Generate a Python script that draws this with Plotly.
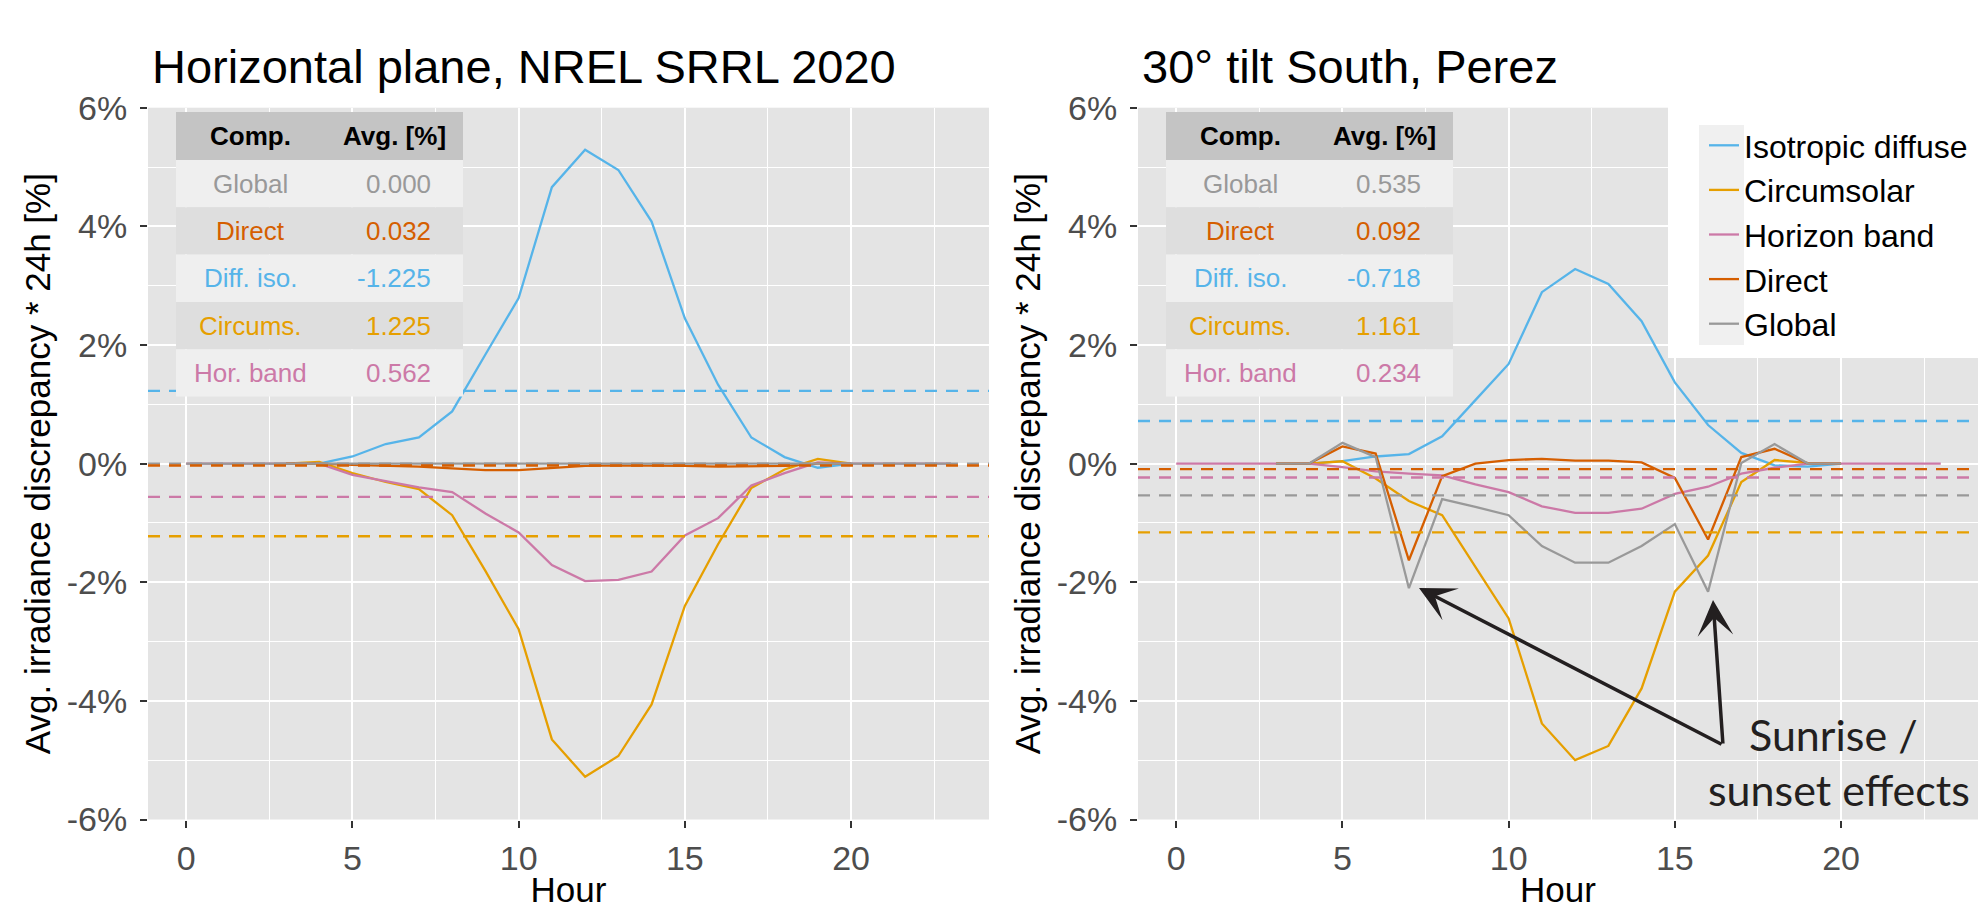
import plotly.graph_objects as go

W, H = 1978, 909

# ---------------- data ----------------
HOURS = list(range(24))
SERIES = ["Isotropic diffuse", "Circumsolar", "Horizon band", "Direct", "Global"]
COLORS = ["#56B4E9", "#E69F00", "#CC79A7", "#D55E00", "#999999"]

N = None
# Horizontal plane (left)
H_ISO = [N, N, N, 0, 0, 0.12, 0.33, 0.44, 0.88, 1.84, 2.79, 4.66, 5.29, 4.95, 4.08, 2.45, 1.33, 0.44, 0.11, -0.07, 0, N, N, N]
H_CIRC = [N, N, N, 0, 0.03, -0.16, -0.31, -0.43, -0.87, -1.81, -2.79, -4.65, -5.28, -4.93, -4.06, -2.40, -1.36, -0.41, -0.10, 0.08, 0, N, N, N]
H_HOR = [0, 0, 0, 0, 0, -0.19, -0.30, -0.40, -0.48, -0.84, -1.16, -1.71, -1.98, -1.96, -1.82, -1.21, -0.92, -0.37, -0.16, 0.02, 0, 0, 0, 0]
H_DIR = [N, N, N, 0, 0, -0.02, -0.03, -0.05, -0.08, -0.11, -0.11, -0.07, -0.04, -0.03, -0.03, -0.04, -0.05, -0.05, -0.04, 0, 0, N, N, N]
H_GLOB = [0] * 24

# 30 deg tilt South, Perez (right)
T_ISO = [N, N, N, 0, 0, 0.04, 0.12, 0.16, 0.46, 1.07, 1.68, 2.89, 3.28, 3.03, 2.40, 1.37, 0.65, 0.18, -0.03, -0.05, 0, N, N, N]
T_CIRC = [N, N, N, 0, 0, 0.04, -0.25, -0.63, -0.87, -1.74, -2.61, -4.38, -5.00, -4.76, -3.79, -2.16, -1.55, -0.31, 0.06, 0.01, 0, N, N, N]
T_HOR = [0, 0, 0, 0, 0, -0.06, -0.13, -0.17, -0.20, -0.35, -0.48, -0.72, -0.83, -0.83, -0.76, -0.51, -0.39, -0.17, -0.07, 0, 0, 0, 0, 0]
T_DIR = [N, N, N, 0, 0, 0.29, 0.17, -1.63, -0.21, 0.0, 0.06, 0.08, 0.05, 0.05, 0.02, -0.24, -1.28, 0.11, 0.25, 0, 0, N, N, N]
T_GLOB = [N, N, N, 0, 0, 0.35, 0.11, -2.10, -0.60, -0.73, -0.87, -1.39, -1.67, -1.67, -1.39, -1.02, -2.16, 0.01, 0.33, 0, 0, N, N, N]

# Tables (Comp. / Avg. [%])
TABLE_HEADER = ["Comp.", "Avg. [%]"]
COMP_LABELS = ["Global", "Direct", "Diff. iso.", "Circums.", "Hor. band"]
COMP_COLORS = ["#999999", "#D55E00", "#56B4E9", "#E69F00", "#CC79A7"]
LEFT_AVG = ["0.000", "0.032", "-1.225", "1.225", "0.562"]
RIGHT_AVG = ["0.535", "0.092", "-0.718", "1.161", "0.234"]

TITLES = ["Horizontal plane, NREL SRRL 2020", "30° tilt South, Perez"]
X_TICKS = [0, 5, 10, 15, 20]
Y_TICKS = [-6, -4, -2, 0, 2, 4, 6]
Y_TICKTEXT = ["-6%", "-4%", "-2%", "0%", "2%", "4%", "6%"]
X_TITLE = "Hour"
Y_TITLE = "Avg. irradiance discrepancy * 24h [%]"
NOTE_LINES = ["Sunrise /", "sunset effects"]

# ---------------- layout helpers ----------------
def px(x):
    return x / W

def py(y):
    return 1 - y / H

FONT = "Liberation Sans"
PANEL_TOP, PANEL_BOT = 107.7, 819.5
LEFT_PANEL = (148, 989)
RIGHT_PANEL = (1138, 1978)
PX_PER_PCT = (PANEL_BOT - PANEL_TOP) / 12.0
Y0_PX = (PANEL_BOT + PANEL_TOP) / 2.0

def ypct(y_px):
    return (Y0_PX - y_px) / PX_PER_PCT

fig = go.Figure()

left_sets = [H_ISO, H_CIRC, H_HOR, H_DIR, H_GLOB]
right_sets = [T_ISO, T_CIRC, T_HOR, T_DIR, T_GLOB]
for name, col, ys in zip(SERIES, COLORS, left_sets):
    fig.add_trace(go.Scatter(x=HOURS, y=ys, mode="lines", name=name,
                             line=dict(color=col, width=2.3),
                             xaxis="x", yaxis="y", showlegend=False,
                             hoverinfo="skip"))
for name, col, ys in zip(SERIES, COLORS, right_sets):
    fig.add_trace(go.Scatter(x=HOURS, y=ys, mode="lines", name=name,
                             line=dict(color=col, width=2.3),
                             xaxis="x2", yaxis="y2", showlegend=True,
                             hoverinfo="skip"))

shapes = []
# dashed mean lines (negated averages)
for avgs, xr, yr in [(LEFT_AVG, "x domain", "y"), (RIGHT_AVG, "x2 domain", "y2")]:
    for a, col in zip(avgs, COMP_COLORS):
        v = -float(a)
        shapes.append(dict(type="line", xref=xr, yref=yr, x0=0, x1=1, y0=v, y1=v,
                           line=dict(color=col, width=2.3, dash="12px,9px"),
                           layer="above"))

annotations = []

# tables
HEAD_FILL = "#C4C4C4"
ROW_FILLS = ["#EFEFEF", "#DEDEDE"]
for off, avgs in [(0, LEFT_AVG), (990, RIGHT_AVG)]:
    x0, x1 = 176 + off, 463 + off
    top, hh, rh = 112, 48, 47.3
    shapes.append(dict(type="rect", xref="paper", yref="paper",
                       x0=px(x0), x1=px(x1), y0=py(top), y1=py(top + hh),
                       fillcolor=HEAD_FILL, line=dict(width=0), layer="above"))
    annotations.append(dict(xref="paper", yref="paper", x=px(250 + off), y=py(top + hh / 2),
                            text="<b>%s</b>" % TABLE_HEADER[0], showarrow=False,
                            xanchor="center", yanchor="middle",
                            font=dict(family=FONT, size=26, color="black")))
    annotations.append(dict(xref="paper", yref="paper", x=px(394 + off), y=py(top + hh / 2),
                            text="<b>%s</b>" % TABLE_HEADER[1], showarrow=False,
                            xanchor="center", yanchor="middle",
                            font=dict(family=FONT, size=26, color="black")))
    for i, (lab, val, col) in enumerate(zip(COMP_LABELS, avgs, COMP_COLORS)):
        r0 = top + hh + i * rh
        shapes.append(dict(type="rect", xref="paper", yref="paper",
                           x0=px(x0), x1=px(x1), y0=py(r0), y1=py(r0 + rh),
                           fillcolor=ROW_FILLS[i % 2], line=dict(width=0), layer="above"))
        annotations.append(dict(xref="paper", yref="paper", x=px(250 + off), y=py(r0 + rh / 2),
                                text=lab, showarrow=False, xanchor="center", yanchor="middle",
                                font=dict(family=FONT, size=26, color=col)))
        annotations.append(dict(xref="paper", yref="paper", x=px(433 + off), y=py(r0 + rh / 2),
                                text=val, showarrow=False, xanchor="right", yanchor="middle",
                                font=dict(family=FONT, size=26, color=col)))

# legend background (white box over panel + grey key column)
LEG_X = 1704
shapes.append(dict(type="rect", xref="paper", yref="paper",
                   x0=px(1668), x1=1, y0=py(PANEL_TOP - 1), y1=py(358),
                   fillcolor="white", line=dict(width=0), layer="above"))
shapes.append(dict(type="rect", xref="paper", yref="paper",
                   x0=px(LEG_X - 5), x1=px(LEG_X + 40), y0=py(125), y1=py(345),
                   fillcolor="#F0F0F0", line=dict(width=0), layer="above"))

# titles
for t, xl in zip(TITLES, [150, 1140]):
    annotations.append(dict(xref="paper", yref="paper", x=px(xl), y=py(67), text=t,
                            showarrow=False, xanchor="left", yanchor="middle",
                            font=dict(family=FONT, size=47, color="black")))

# sunrise / sunset arrows and note (right panel, data coords)
X0_RIGHT = RIGHT_PANEL[0] + 1.15 * (RIGHT_PANEL[1] - RIGHT_PANEL[0]) / 25.27
PX_PER_H = (RIGHT_PANEL[1] - RIGHT_PANEL[0]) / 25.27

def xh(x_px):
    return (x_px - X0_RIGHT) / PX_PER_H

TAIL = (xh(1723), ypct(745))
TIPS = [(xh(1419), ypct(588)), (xh(1713), ypct(600))]
for tx, ty in TIPS:
    annotations.append(dict(xref="x2", yref="y2", x=tx, y=ty, axref="x2", ayref="y2",
                            ax=TAIL[0], ay=TAIL[1], text="", showarrow=True,
                            arrowhead=3, arrowsize=1.7, arrowwidth=3.5,
                            arrowcolor="#231F20", standoff=0, startstandoff=0))
annotations.append(dict(xref="x2", yref="y2", x=xh(1833), y=ypct(762), text=NOTE_LINES[0],
                        showarrow=False, xanchor="center", yanchor="bottom",
                        font=dict(family="Lato", size=43, color="#231F20")))
annotations.append(dict(xref="x2", yref="y2", x=xh(1839), y=ypct(762), text=NOTE_LINES[1],
                        showarrow=False, xanchor="center", yanchor="top",
                        font=dict(family="Lato", size=43, color="#231F20")))

def xaxis(domain, rng, anchor):
    return dict(domain=domain, range=rng, anchor=anchor, automargin=False,
                tickmode="array", tickvals=X_TICKS, ticktext=[str(v) for v in X_TICKS],
                showgrid=True, gridcolor="white", gridwidth=2.3, zeroline=False,
                ticks="outside", ticklen=7, tickwidth=2, tickcolor="#333333",
                tickfont=dict(family=FONT, size=34, color="#4D4D4D"),
                ticklabelstandoff=2,
                minor=dict(showgrid=True, gridcolor="white", gridwidth=1.3, tick0=0, dtick=2.5),
                title=dict(text=X_TITLE, font=dict(family=FONT, size=35, color="black"), standoff=4),
                fixedrange=True)

def yaxis(domain, anchor):
    return dict(domain=domain, range=[-6, 6], anchor=anchor, automargin=False,
                tickmode="array", tickvals=Y_TICKS, ticktext=Y_TICKTEXT,
                showgrid=True, gridcolor="white", gridwidth=2.3, zeroline=False,
                ticks="outside", ticklen=7, tickwidth=2, tickcolor="#333333",
                tickfont=dict(family=FONT, size=34, color="#4D4D4D"),
                ticklabelstandoff=6,
                minor=dict(showgrid=True, gridcolor="white", gridwidth=1.3, tick0=0, dtick=1),
                title=dict(text=Y_TITLE, font=dict(family=FONT, size=35, color="black"), standoff=5),
                fixedrange=True)

ydom = [py(PANEL_BOT), py(PANEL_TOP)]
fig.update_layout(
    width=W, height=H, autosize=False,
    margin=dict(l=0, r=0, t=0, b=0, pad=0, autoexpand=False),
    paper_bgcolor="white", plot_bgcolor="#E4E4E4",
    font=dict(family=FONT),
    xaxis=xaxis([px(LEFT_PANEL[0]), px(LEFT_PANEL[1])], [-1.15, 24.15], "y"),
    yaxis=yaxis(ydom, "x"),
    xaxis2=xaxis([px(RIGHT_PANEL[0]), 1.0], [-1.15, 24.12], "y2"),
    yaxis2=yaxis(ydom, "x2"),
    shapes=shapes,
    annotations=annotations,
    showlegend=True,
    legend=dict(x=px(LEG_X), y=py(118), xanchor="left", yanchor="top",
                bgcolor="rgba(0,0,0,0)", borderwidth=0, traceorder="normal",
                font=dict(family=FONT, size=32, color="black")),
)

fig.write_html("out.html")
